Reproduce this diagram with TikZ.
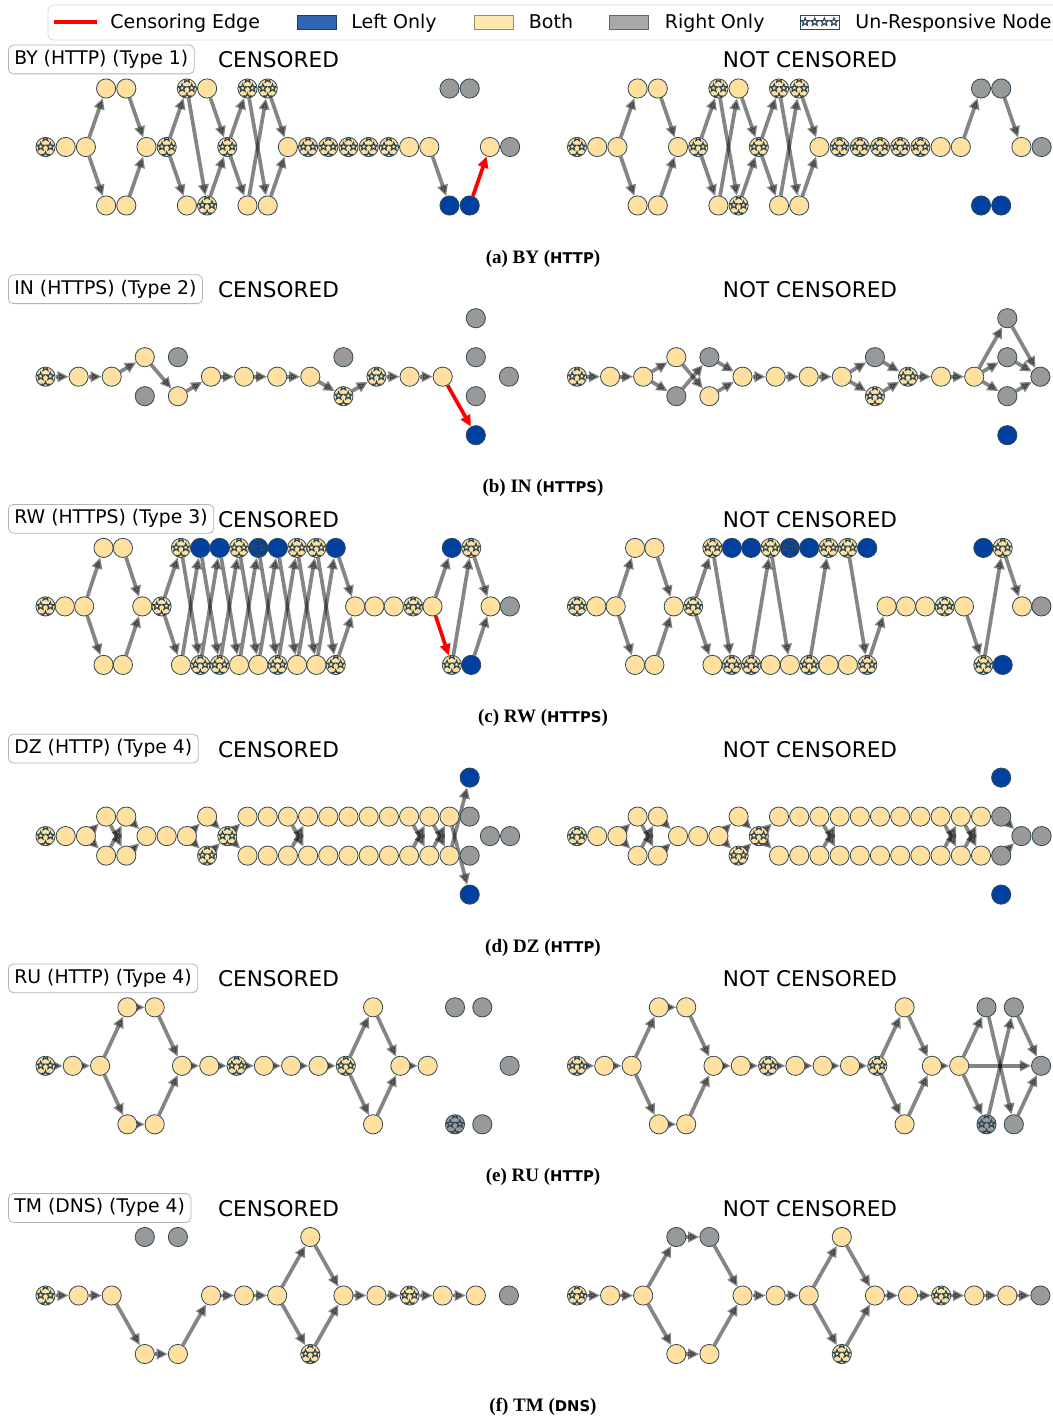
\documentclass[tikz,border=0pt]{standalone}
\usepackage{fontspec}
\setmainfont{DejaVu Sans}
\newfontfamily\capserif{Liberation Serif}
\usetikzlibrary{shapes.geometric, arrows.meta, positioning}

\definecolor{bothfill}{HTML}{FFE09E}
\definecolor{leftfill}{HTML}{0040A0}
\definecolor{rightfill}{HTML}{999999}
\definecolor{hostline}{HTML}{2F4858}
\definecolor{tagline}{HTML}{B4B4B4}
\definecolor{legblue}{HTML}{3264B4}
\definecolor{legyellow}{HTML}{FFE7B0}
\definecolor{leggray}{HTML}{A8A8A8}

\pgfdeclarelayer{canvas}
\pgfdeclarelayer{links}
\pgfsetlayers{canvas,links,main}

\newcommand{\capline}[2]{{\capserif\bfseries #1 (}{\rmfamily\bfseries\fontsize{7.4}{9}\selectfont #2}{\capserif\bfseries )}}

\tikzset{
  host/.style={circle, draw=hostline, line width=0.4pt, minimum size=9.6pt, inner sep=0pt},
  both/.style={host, fill=bothfill},
  lonly/.style={host, fill=leftfill},
  ronly/.style={host, fill=rightfill},
  starmark/.style={star, star points=5, star point ratio=2.3, draw=hostline, line width=0.6pt, minimum size=4pt, inner sep=0pt},
  unresp/.style={path picture={
      \foreach \dx/\dy in {-2.4pt/0.2pt, 2.4pt/0.2pt, 0pt/4.8pt, 0pt/-4.4pt}
        \node[starmark] at ([shift={(\dx,\dy)}]path picture bounding box.center) {};}},
  bothU/.style={both, unresp},
  lonlyU/.style={lonly, unresp},
  ronlyU/.style={ronly, unresp},
  hop/.style={draw=black, opacity=0.48, line width=1.85pt, -{Triangle[length=5.6pt,width=5.2pt]}},
  censor/.style={draw=red, opacity=1},
  panelbox/.style={draw=tagline, rounded corners=2.5pt, fill=white, font=\fontsize{9.4}{11}\selectfont,
    inner xsep=3pt, inner ysep=2.6pt, text height=7pt, text depth=2.2pt, anchor=west},
  headline/.style={font=\fontsize{10.8}{13}\selectfont, anchor=base, inner sep=0pt},
  subcap/.style={font=\capserif\bfseries\fontsize{9.5}{11}\selectfont, anchor=base, inner sep=0pt},
  legtext/.style={font=\fontsize{9.5}{11}\selectfont, anchor=base west, inner sep=0pt},
  keypatch/.style={rectangle, minimum width=19.5pt, minimum height=7pt, inner sep=0pt, line width=0.4pt},
}

\begin{document}
\begin{tikzpicture}[x=0.5pt, y=-0.5pt, every edge/.style={hop}]
\useasboundingbox (0,0) rectangle (1053,1418);
\begin{pgfonlayer}{canvas}
  \fill[white] (0,0) rectangle (1053,1418);
\end{pgfonlayer}

% legend
\draw[draw=black!15, fill=white, rounded corners=3pt] (48,5) rectangle (1064,40);
\coordinate (keyRedA) at (54,22);
\coordinate (keyRedB) at (97,22);
\draw[red, line width=2pt] (keyRedA) -- (keyRedB);
\node[legtext] (legCens) at (110,28.5) {Censoring Edge};
\node[keypatch, fill=legblue, draw=legblue!60!black] (keyLeft) at (316.5,22) {};
\node[legtext] (legLeft) at (351,28.5) {Left Only};
\node[keypatch, fill=legyellow, draw=legyellow!60!black] (keyBoth) at (494,22) {};
\node[legtext] (legBoth) at (528.5,28.5) {Both};
\node[keypatch, fill=leggray, draw=leggray!60!black] (keyRight) at (629,22) {};
\node[legtext] (legRight) at (664.5,28.5) {Right Only};
\node[keypatch, fill=white, draw=hostline, path picture={
    \foreach \dx in {-7.2pt,-2.4pt,2.4pt,7.2pt}
      \node[starmark] at ([xshift=\dx]path picture bounding box.center) {};}] (keyStar) at (819.5,22) {};
\node[legtext] (legStar) at (855,28.5) {Un-Responsive Node};

% ---------- (a) BY ----------
\begin{scope}
  \node[panelbox] (tagA) at (8,59.5) {BY (HTTP) (Type 1)};
  \node[headline] (censA) at (278.5,68) {CENSORED};
  \node[headline] (openA) at (810,68) {NOT CENSORED};
  \node[subcap] (capA) at (543,263) {\capline{(a) BY}{HTTP}};
  \begin{scope}[shift={(45.5,147)}, x=10.1pt, y=-9.75pt]
    \foreach \k/\s in {0/bothU,1/both,2/both,5/both,6/bothU,9/bothU,12/both,13/bothU,14/bothU,15/bothU,16/bothU,17/bothU,18/both,19/both,22/both,23/ronly}
      \node[\s] (aLm\k) at (\k,0) {};
    \foreach \k/\s in {3/both,4/both,7/bothU,8/both,10/bothU,11/bothU,20/ronly,21/ronly}
      \node[\s] (aLt\k) at (\k,-3) {};
    \foreach \k/\s in {3/both,4/both,7/both,8/bothU,10/both,11/both,20/lonly,21/lonly}
      \node[\s] (aLb\k) at (\k,3) {};
  \end{scope}
  \begin{scope}[shift={(577,147)}, x=10.1pt, y=-9.75pt]
    \foreach \k/\s in {0/bothU,1/both,2/both,5/both,6/bothU,9/bothU,12/both,13/bothU,14/bothU,15/bothU,16/bothU,17/bothU,18/both,19/both,22/both,23/ronly}
      \node[\s] (aRm\k) at (\k,0) {};
    \foreach \k/\s in {3/both,4/both,7/bothU,8/both,10/bothU,11/bothU,20/ronly,21/ronly}
      \node[\s] (aRt\k) at (\k,-3) {};
    \foreach \k/\s in {3/both,4/both,7/both,8/bothU,10/both,11/both,20/lonly,21/lonly}
      \node[\s] (aRb\k) at (\k,3) {};
  \end{scope}
  \begin{pgfonlayer}{links}
    \path (aLm2) edge (aLt3) edge (aLb3)
          (aLt4) edge (aLm5)  (aLb4) edge (aLm5)
          (aLm6) edge (aLt7) edge (aLb7)
          (aLt7) edge (aLb8)
          (aLt8) edge (aLm9)  (aLb8) edge (aLm9)
          (aLm9) edge (aLt10) edge (aLb10)
          (aLt10) edge (aLb11)  (aLb10) edge (aLt11)
          (aLt11) edge (aLm12)  (aLb11) edge (aLm12)
          (aLm19) edge (aLb20)
          (aLb21) edge[censor] (aLm22);
    \path (aRm2) edge (aRt3) edge (aRb3)
          (aRt4) edge (aRm5)  (aRb4) edge (aRm5)
          (aRm6) edge (aRt7) edge (aRb7)
          (aRt7) edge (aRb8)  (aRb7) edge (aRt8)
          (aRt8) edge (aRm9)  (aRb8) edge (aRm9)
          (aRm9) edge (aRt10) edge (aRb10)
          (aRt10) edge (aRb11)  (aRb10) edge (aRt11)
          (aRt11) edge (aRm12)  (aRb11) edge (aRm12)
          (aRm19) edge (aRt20)
          (aRt21) edge (aRm22);
  \end{pgfonlayer}
\end{scope}

% ---------- (b) IN ----------
\begin{scope}[shift={(0,229.7)}]
  \node[panelbox] (tagB) at (8,59.5) {IN (HTTPS) (Type 2)};
  \node[headline] (censB) at (278.5,68) {CENSORED};
  \node[headline] (openB) at (810,68) {NOT CENSORED};
  \node[subcap] (capB) at (543,263) {\capline{(b) IN}{HTTPS}};
  \begin{scope}[shift={(45.5,147)}, x=16.55pt, y=-9.75pt]
    \foreach \k/\s in {0/bothU,1/both,2/both,5/both,6/both,7/both,8/both,10/bothU,11/both,12/both,14/ronly}
      \node[\s] (bLm\k) at (\k,0) {};
    \foreach \k/\s in {3/both,4/ronly,9/ronly,13/ronly}
      \node[\s] (bLu\k) at (\k,-1) {};
    \foreach \k/\s in {3/ronly,4/both,9/bothU,13/ronly}
      \node[\s] (bLl\k) at (\k,1) {};
    \node[ronly] (bLt13) at (13,-3) {};
    \node[lonly] (bLb13) at (13,3) {};
  \end{scope}
  \begin{scope}[shift={(577,147)}, x=16.55pt, y=-9.75pt]
    \foreach \k/\s in {0/bothU,1/both,2/both,5/both,6/both,7/both,8/both,10/bothU,11/both,12/both,14/ronly}
      \node[\s] (bRm\k) at (\k,0) {};
    \foreach \k/\s in {3/both,4/ronly,9/ronly,13/ronly}
      \node[\s] (bRu\k) at (\k,-1) {};
    \foreach \k/\s in {3/ronly,4/both,9/bothU,13/ronly}
      \node[\s] (bRl\k) at (\k,1) {};
    \node[ronly] (bRt13) at (13,-3) {};
    \node[lonly] (bRb13) at (13,3) {};
  \end{scope}
  \begin{pgfonlayer}{links}
    \path (bLm0) edge (bLm1)  (bLm1) edge (bLm2)
          (bLm2) edge (bLu3)  (bLu3) edge (bLl4)  (bLl4) edge (bLm5)
          (bLm5) edge (bLm6)  (bLm6) edge (bLm7)  (bLm7) edge (bLm8)
          (bLm8) edge (bLl9)  (bLl9) edge (bLm10)
          (bLm10) edge (bLm11)  (bLm11) edge (bLm12)
          (bLm12) edge[censor] (bLb13);
    \path (bRm0) edge (bRm1)  (bRm1) edge (bRm2)
          (bRm2) edge (bRu3) edge (bRl3)
          (bRu3) edge (bRl4)  (bRl3) edge (bRu4)
          (bRu4) edge (bRm5)  (bRl4) edge (bRm5)
          (bRm5) edge (bRm6)  (bRm6) edge (bRm7)  (bRm7) edge (bRm8)
          (bRm8) edge (bRu9) edge (bRl9)
          (bRu9) edge (bRm10)  (bRl9) edge (bRm10)
          (bRm10) edge (bRm11)  (bRm11) edge (bRm12)
          (bRm12) edge (bRt13) edge (bRu13) edge (bRl13)
          (bRt13) edge (bRm14)  (bRu13) edge (bRm14)  (bRl13) edge (bRm14);
  \end{pgfonlayer}
\end{scope}

% ---------- (c) RW ----------
\begin{scope}[shift={(0,459.4)}]
  \node[panelbox] (tagC) at (8,59.5) {RW (HTTPS) (Type 3)};
  \node[headline] (censC) at (278.5,68) {CENSORED};
  \node[headline] (openC) at (810,68) {NOT CENSORED};
  \node[subcap] (capC) at (543,263) {\capline{(c) RW}{HTTPS}};
  \begin{scope}[shift={(45.5,147)}, x=9.675pt, y=-9.75pt]
    \foreach \k/\s in {0/bothU,1/both,2/both,5/both,6/bothU,16/both,17/both,18/both,19/bothU,20/both,23/both,24/ronly}
      \node[\s] (cLm\k) at (\k,0) {};
    \foreach \k/\s in {3/both,4/both,7/bothU,8/lonly,9/lonly,10/bothU,11/lonlyU,12/lonly,13/bothU,14/bothU,15/lonly,21/lonly,22/bothU}
      \node[\s] (cLt\k) at (\k,-3) {};
    \foreach \k/\s in {3/both,4/both,7/both,8/bothU,9/bothU,10/both,11/both,12/bothU,13/both,14/both,15/bothU,21/bothU,22/lonly}
      \node[\s] (cLb\k) at (\k,3) {};
  \end{scope}
  \begin{scope}[shift={(577,147)}, x=9.675pt, y=-9.75pt]
    \foreach \k/\s in {0/bothU,1/both,2/both,5/both,6/bothU,16/both,17/both,18/both,19/bothU,20/both,23/both,24/ronly}
      \node[\s] (cRm\k) at (\k,0) {};
    \foreach \k/\s in {3/both,4/both,7/bothU,8/lonly,9/lonly,10/bothU,11/lonlyU,12/lonly,13/bothU,14/bothU,15/lonly,21/lonly,22/bothU}
      \node[\s] (cRt\k) at (\k,-3) {};
    \foreach \k/\s in {3/both,4/both,7/both,8/bothU,9/bothU,10/both,11/both,12/bothU,13/both,14/both,15/bothU,21/bothU,22/lonly}
      \node[\s] (cRb\k) at (\k,3) {};
  \end{scope}
  \begin{pgfonlayer}{links}
    \path (cLm2) edge (cLt3) edge (cLb3)
          (cLt4) edge (cLm5)  (cLb4) edge (cLm5)
          (cLm6) edge (cLt7) edge (cLb7);
    \foreach \k/\n in {7/8,8/9,9/10,10/11,11/12,12/13,13/14,14/15}
      \path (cLt\k) edge (cLb\n)  (cLb\k) edge (cLt\n);
    \path (cLt15) edge (cLm16)  (cLb15) edge (cLm16)
          (cLm20) edge (cLt21) edge[censor] (cLb21)
          (cLb21) edge (cLt22)
          (cLt22) edge (cLm23)  (cLb22) edge (cLm23);
    \path (cRm2) edge (cRt3) edge (cRb3)
          (cRt4) edge (cRm5)  (cRb4) edge (cRm5)
          (cRm6) edge (cRt7) edge (cRb7)
          (cRt7) edge (cRb8)  (cRb9) edge (cRt10)
          (cRt10) edge (cRb11)  (cRb12) edge (cRt13)
          (cRt14) edge (cRb15)  (cRb15) edge (cRm16)
          (cRm20) edge (cRb21)  (cRb21) edge (cRt22)
          (cRt22) edge (cRm23);
  \end{pgfonlayer}
\end{scope}

% ---------- (d) DZ ----------
\begin{scope}[shift={(0,689.1)}]
  \node[panelbox] (tagD) at (8,59.5) {DZ (HTTP) (Type 4)};
  \node[headline] (censD) at (278.5,68) {CENSORED};
  \node[headline] (openD) at (810,68) {NOT CENSORED};
  \node[subcap] (capD) at (543,263) {\capline{(d) DZ}{HTTP}};
  \begin{scope}[shift={(45.5,147)}, x=10.1pt, y=-9.75pt]
    \foreach \k/\s in {0/bothU,1/both,2/both,5/both,6/both,7/both,9/bothU,22/ronly,23/ronly}
      \node[\s] (dLm\k) at (\k,0) {};
    \foreach \k/\s in {3/both,4/both,8/both,21/ronly}
      \node[\s] (dLu\k) at (\k,-1) {};
    \foreach \k/\s in {3/both,4/both,8/bothU,21/ronly}
      \node[\s] (dLl\k) at (\k,1) {};
    \foreach \k in {10,...,20} {
      \node[both] (dLu\k) at (\k,-1) {};
      \node[both] (dLl\k) at (\k,1) {};
    }
    \node[lonly] (dLt21) at (21,-3) {};
    \node[lonly] (dLb21) at (21,3) {};
  \end{scope}
  \begin{scope}[shift={(577,147)}, x=10.1pt, y=-9.75pt]
    \foreach \k/\s in {0/bothU,1/both,2/both,5/both,6/both,7/both,9/bothU,22/ronly,23/ronly}
      \node[\s] (dRm\k) at (\k,0) {};
    \foreach \k/\s in {3/both,4/both,8/both,21/ronly}
      \node[\s] (dRu\k) at (\k,-1) {};
    \foreach \k/\s in {3/both,4/both,8/bothU,21/ronly}
      \node[\s] (dRl\k) at (\k,1) {};
    \foreach \k in {10,...,20} {
      \node[both] (dRu\k) at (\k,-1) {};
      \node[both] (dRl\k) at (\k,1) {};
    }
    \node[lonly] (dRt21) at (21,-3) {};
    \node[lonly] (dRb21) at (21,3) {};
  \end{scope}
  \begin{pgfonlayer}{links}
    \path (dLm2) edge (dLu3) edge (dLl3)
          (dLu3) edge (dLl4)  (dLl3) edge (dLu4)
          (dLu4) edge (dLm5)  (dLl4) edge (dLm5)
          (dLm7) edge (dLu8) edge (dLl8)
          (dLu8) edge (dLm9)  (dLl8) edge (dLm9)
          (dLm9) edge (dLu10) edge (dLl10)
          (dLu12) edge (dLl13)  (dLl12) edge (dLu13)
          (dLu18) edge (dLl19)  (dLl18) edge (dLu19)
          (dLu19) edge (dLl20)  (dLl19) edge (dLu20)
          (dLu20) edge (dLb21)  (dLl20) edge (dLt21);
    \path (dRm2) edge (dRu3) edge (dRl3)
          (dRu3) edge (dRl4)  (dRl3) edge (dRu4)
          (dRu4) edge (dRm5)  (dRl4) edge (dRm5)
          (dRm7) edge (dRu8) edge (dRl8)
          (dRu8) edge (dRm9)  (dRl8) edge (dRm9)
          (dRm9) edge (dRu10) edge (dRl10)
          (dRu12) edge (dRl13)  (dRl12) edge (dRu13)
          (dRu18) edge (dRl19)  (dRl18) edge (dRu19)
          (dRu19) edge (dRl20)  (dRl19) edge (dRu20)
          (dRu21) edge (dRm22)  (dRl21) edge (dRm22);
  \end{pgfonlayer}
\end{scope}

% ---------- (e) RU ----------
\begin{scope}[shift={(0,918.8)}]
  \node[panelbox] (tagE) at (8,59.5) {RU (HTTP) (Type 4)};
  \node[headline] (censE) at (278.5,68) {CENSORED};
  \node[headline] (openE) at (810,68) {NOT CENSORED};
  \node[subcap] (capE) at (543,263) {\capline{(e) RU}{HTTP}};
  \begin{scope}[shift={(45.5,147)}, x=13.65pt, y=-9.75pt]
    \foreach \k/\s in {0/bothU,1/both,2/both,5/both,6/both,7/bothU,8/both,9/both,10/both,11/bothU,13/both,14/both,17/ronly}
      \node[\s] (eLm\k) at (\k,0) {};
    \foreach \k/\s in {3/both,4/both,12/both,15/ronly,16/ronly}
      \node[\s] (eLt\k) at (\k,-3) {};
    \foreach \k/\s in {3/both,4/both,12/both,15/ronlyU,16/ronly}
      \node[\s] (eLb\k) at (\k,3) {};
  \end{scope}
  \begin{scope}[shift={(577,147)}, x=13.65pt, y=-9.75pt]
    \foreach \k/\s in {0/bothU,1/both,2/both,5/both,6/both,7/bothU,8/both,9/both,10/both,11/bothU,13/both,14/both,17/ronly}
      \node[\s] (eRm\k) at (\k,0) {};
    \foreach \k/\s in {3/both,4/both,12/both,15/ronly,16/ronly}
      \node[\s] (eRt\k) at (\k,-3) {};
    \foreach \k/\s in {3/both,4/both,12/both,15/ronlyU,16/ronly}
      \node[\s] (eRb\k) at (\k,3) {};
  \end{scope}
  \begin{pgfonlayer}{links}
    \path (eLm0) edge (eLm1)  (eLm1) edge (eLm2)
          (eLm2) edge (eLt3) edge (eLb3)
          (eLt3) edge (eLt4)  (eLb3) edge (eLb4)
          (eLt4) edge (eLm5)  (eLb4) edge (eLm5)
          (eLm5) edge (eLm6)  (eLm6) edge (eLm7)  (eLm7) edge (eLm8)
          (eLm8) edge (eLm9)  (eLm9) edge (eLm10)  (eLm10) edge (eLm11)
          (eLm11) edge (eLt12) edge (eLb12)
          (eLt12) edge (eLm13)  (eLb12) edge (eLm13)
          (eLm13) edge (eLm14);
    \path (eRm0) edge (eRm1)  (eRm1) edge (eRm2)
          (eRm2) edge (eRt3) edge (eRb3)
          (eRt3) edge (eRt4)  (eRb3) edge (eRb4)
          (eRt4) edge (eRm5)  (eRb4) edge (eRm5)
          (eRm5) edge (eRm6)  (eRm6) edge (eRm7)  (eRm7) edge (eRm8)
          (eRm8) edge (eRm9)  (eRm9) edge (eRm10)  (eRm10) edge (eRm11)
          (eRm11) edge (eRt12) edge (eRb12)
          (eRt12) edge (eRm13)  (eRb12) edge (eRm13)
          (eRm13) edge (eRm14)
          (eRm14) edge (eRt15) edge (eRb15) edge (eRm17)
          (eRt15) edge (eRb16)  (eRb15) edge (eRt16)
          (eRt16) edge (eRm17)  (eRb16) edge (eRm17);
  \end{pgfonlayer}
\end{scope}

% ---------- (f) TM ----------
\begin{scope}[shift={(0,1148.5)}]
  \node[panelbox] (tagF) at (8,59.5) {TM (DNS) (Type 4)};
  \node[headline] (censF) at (278.5,68) {CENSORED};
  \node[headline] (openF) at (810,68) {NOT CENSORED};
  \node[subcap] (capF) at (543,263) {\capline{(f) TM}{DNS}};
  \begin{scope}[shift={(45.5,147)}, x=16.55pt, y=-9.75pt]
    \foreach \k/\s in {0/bothU,1/both,2/both,5/both,6/both,7/both,9/both,10/both,11/bothU,12/both,13/both,14/ronly}
      \node[\s] (fLm\k) at (\k,0) {};
    \foreach \k/\s in {3/ronly,4/ronly,8/both}
      \node[\s] (fLt\k) at (\k,-3) {};
    \foreach \k/\s in {3/both,4/both,8/bothU}
      \node[\s] (fLb\k) at (\k,3) {};
  \end{scope}
  \begin{scope}[shift={(577,147)}, x=16.55pt, y=-9.75pt]
    \foreach \k/\s in {0/bothU,1/both,2/both,5/both,6/both,7/both,9/both,10/both,11/bothU,12/both,13/both,14/ronly}
      \node[\s] (fRm\k) at (\k,0) {};
    \foreach \k/\s in {3/ronly,4/ronly,8/both}
      \node[\s] (fRt\k) at (\k,-3) {};
    \foreach \k/\s in {3/both,4/both,8/bothU}
      \node[\s] (fRb\k) at (\k,3) {};
  \end{scope}
  \begin{pgfonlayer}{links}
    \path (fLm0) edge (fLm1)  (fLm1) edge (fLm2)
          (fLm2) edge (fLb3)  (fLb3) edge (fLb4)  (fLb4) edge (fLm5)
          (fLm5) edge (fLm6)  (fLm6) edge (fLm7)
          (fLm7) edge (fLt8) edge (fLb8)
          (fLt8) edge (fLm9)  (fLb8) edge (fLm9)
          (fLm9) edge (fLm10)  (fLm10) edge (fLm11)
          (fLm11) edge (fLm12)  (fLm12) edge (fLm13);
    \path (fRm0) edge (fRm1)  (fRm1) edge (fRm2)
          (fRm2) edge (fRt3) edge (fRb3)
          (fRt3) edge (fRt4)  (fRb3) edge (fRb4)
          (fRt4) edge (fRm5)  (fRb4) edge (fRm5)
          (fRm5) edge (fRm6)  (fRm6) edge (fRm7)
          (fRm7) edge (fRt8) edge (fRb8)
          (fRt8) edge (fRm9)  (fRb8) edge (fRm9)
          (fRm9) edge (fRm10)  (fRm10) edge (fRm11)
          (fRm11) edge (fRm12)  (fRm12) edge (fRm13)
          (fRm13) edge (fRm14);
  \end{pgfonlayer}
\end{scope}
\end{tikzpicture}
\end{document}
